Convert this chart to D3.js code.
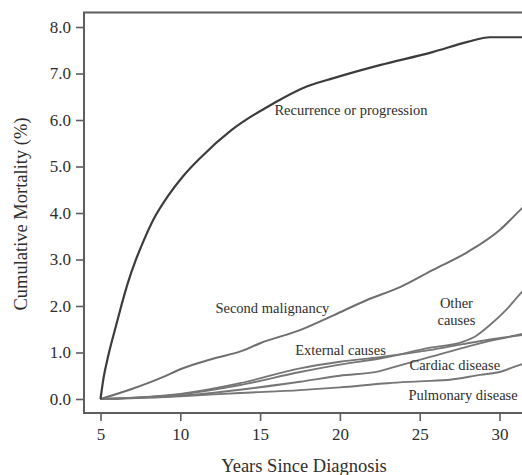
<!DOCTYPE html>
<html>
<head>
<meta charset="utf-8">
<script src="https://cdn.jsdelivr.net/npm/d3@7"></script>
<style>
    body { margin: 0; background: #fff; }
    text { font-family: "Liberation Serif", "DejaVu Serif", serif; fill: #2e2e2e; }
</style>
</head>
<body>
<svg id="chart" width="522" height="475"></svg>
<script>
// valeurs : [annees, mortalite cumulee %]
let recurrence = [[5, 0], [5.2, 0.47], [5.5, 0.95], [5.85, 1.42], [6.3, 2.0], [6.7, 2.48], [7.2, 2.98],
    [7.7, 3.4], [8.35, 3.88], [9.2, 4.35], [10.2, 4.8], [11.3, 5.2], [13.2, 5.78], [15.9, 6.37],
    [17.7, 6.69], [19.6, 6.9], [22.5, 7.18], [25.8, 7.46], [28, 7.68], [29.4, 7.78], [32, 7.78]];
let secondMalignancy = [[5, 0], [7, 0.22], [8.9, 0.47], [10, 0.64], [12, 0.86], [14, 1.05], [15, 1.2],
    [17.5, 1.48], [19.6, 1.8], [21.7, 2.13], [23.8, 2.41], [25.8, 2.77], [28, 3.16], [30, 3.63], [31.4, 4.1], [32, 4.3]];
let otherCauses = [[5, 0], [10, 0.1], [13.75, 0.3], [17.5, 0.58], [20, 0.74], [22.5, 0.87], [25.6, 1.1],
    [27.7, 1.23], [28.5, 1.35], [29.4, 1.59], [30.4, 1.91], [31.4, 2.3], [32, 2.5]];
let externalCauses = [[5, 0], [10, 0.11], [13.75, 0.34], [17.5, 0.66], [20, 0.8], [22.5, 0.9], [25.6, 1.05],
    [27.7, 1.18], [29.4, 1.28], [30.4, 1.33], [32, 1.4]];
let cardiacDisease = [[5, 0], [10, 0.07], [13.75, 0.2], [17.5, 0.37], [20, 0.5], [22.5, 0.6], [23.1, 0.66],
    [25.6, 0.9], [27.7, 1.1], [29.4, 1.25], [30.4, 1.32], [32, 1.45]];
let pulmonaryDisease = [[5, 0], [10, 0.06], [13.75, 0.13], [17.5, 0.19], [20, 0.25], [23, 0.34], [25, 0.38],
    [27, 0.42], [28.8, 0.52], [30, 0.58], [31, 0.7], [32, 0.82]];

let xTicks = [5, 10, 15, 20, 25, 30];
let yTicks = [0, 1, 2, 3, 4, 5, 6, 7, 8];

let labels = [
    { text: "Recurrence or progression", x: 15.9, y: 6.1, anchor: "start" },
    { text: "Second malignancy", x: 12.2, y: 1.85, anchor: "start" },
    { text: "External causes", x: 17.2, y: 0.95, anchor: "start" },
    { text: "Other", x: 27.3, y: 1.96, anchor: "middle" },
    { text: "causes", x: 27.3, y: 1.6, anchor: "middle" },
    { text: "Cardiac disease", x: 27.2, y: 0.62, anchor: "middle" },
    { text: "Pulmonary disease", x: 24.3, y: -0.02, anchor: "start" }
];

let svg = d3.select("#chart");

let x = d3.scaleLinear().domain([5, 30]).range([100.5, 499.5]);
let y = d3.scaleLinear().domain([0, 8]).range([399, 27]);

let cadreG = 84, cadreH = 12.5, cadreB = 413, cadreD = 540;

// cadre
svg.append("rect")
    .attr("x", cadreG)
    .attr("y", cadreH)
    .attr("width", cadreD - cadreG)
    .attr("height", cadreB - cadreH)
    .style("fill", "none")
    .style("stroke", "#5e5e5e")
    .style("stroke-width", 2);

let yAxis = svg.append("g")
    .attr("transform", `translate(${cadreG},0)`)
    .call(d3.axisLeft(y).tickValues(yTicks).tickFormat(d3.format(".1f")).tickSize(8).tickSizeOuter(0));

let xAxis = svg.append("g")
    .attr("transform", `translate(0,${cadreB})`)
    .call(d3.axisBottom(x).tickValues(xTicks).tickSize(8).tickSizeOuter(0));

[xAxis, yAxis].forEach(ax => {
    ax.select(".domain").remove();
    ax.selectAll("line").style("stroke", "#5e5e5e").style("stroke-width", 1.6);
    ax.selectAll("text").style("font-family", "Liberation Serif, serif").style("font-size", "17px").style("fill", "#2e2e2e");
});
yAxis.selectAll("text").attr("x", -13);
xAxis.selectAll("text").attr("y", 15);

svg.append("text")
    .attr("x", 304)
    .attr("y", 472)
    .attr("text-anchor", "middle")
    .style("font-size", "18.5px")
    .text("Years Since Diagnosis");

svg.append("text")
    .attr("transform", "translate(27,214) rotate(-90)")
    .attr("text-anchor", "middle")
    .style("font-size", "18.5px")
    .text("Cumulative Mortality (%)");

svg.append("clipPath")
    .attr("id", "zone")
    .append("rect")
    .attr("x", cadreG)
    .attr("y", cadreH)
    .attr("width", cadreD - cadreG)
    .attr("height", cadreB - cadreH);

let line = d3.line()
    .x(d => x(d[0]))
    .y(d => y(d[1]))
    .curve(d3.curveMonotoneX);

let courbes = [
    { data: pulmonaryDisease, color: "#767676", w: 1.9 },
    { data: cardiacDisease, color: "#767676", w: 1.9 },
    { data: externalCauses, color: "#767676", w: 1.9 },
    { data: otherCauses, color: "#767676", w: 1.9 },
    { data: secondMalignancy, color: "#6e6e6e", w: 2 },
    { data: recurrence, color: "#3c3c3c", w: 2.2 }
];

svg.append("g")
    .attr("clip-path", "url(#zone)")
    .selectAll("path")
    .data(courbes)
    .enter()
    .append("path")
    .attr("d", d => line(d.data))
    .style("fill", "none")
    .style("stroke", d => d.color)
    .style("stroke-width", d => d.w)
    .style("stroke-linejoin", "round");

svg.selectAll(".etiquette")
    .data(labels)
    .enter()
    .append("text")
    .attr("class", "etiquette")
    .attr("x", d => x(d.x))
    .attr("y", d => y(d.y))
    .attr("text-anchor", d => d.anchor)
    .style("font-size", "14.5px")
    .text(d => d.text);
</script>
</body>
</html>
